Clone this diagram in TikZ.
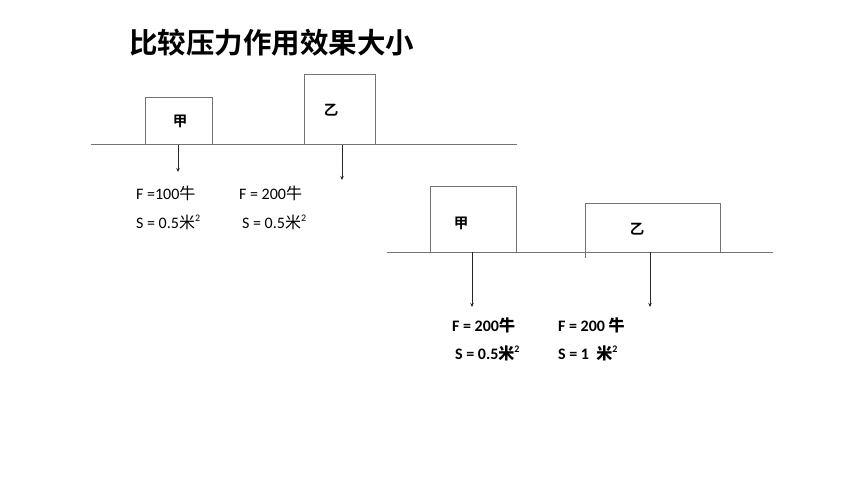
\documentclass[tikz,border=0pt]{standalone}
\usepackage{fontspec}
\setmainfont{Carlito}
\newfontfamily\cjk{Noto Sans CJK SC}
\newfontfamily\cjkb{Noto Sans CJK SC Bold}
\usetikzlibrary{arrows.meta}
\tikzset{
  ground/.style={draw=black!55, line width=1pt},
  blockbox/.style={draw=black!55, line width=1pt, fill=none},
  force/.style={draw=black!85, line width=0.7pt, -{Stealth[length=4pt,width=3.5pt]}},
  lbl/.style={font=\cjkb\fontsize{14.5}{14.5}\selectfont, inner sep=0pt},
  txt/.style={font=\fontsize{16}{16}\selectfont, inner sep=0pt, anchor=west},
  btxt/.style={font=\bfseries\fontsize{16}{16}\selectfont, inner sep=0pt, anchor=west},
}
\newcommand{\nian}{{\cjk 牛}}
\newcommand{\mii}{{\cjk 米}\raisebox{0.4em}{\fontsize{10}{10}\selectfont 2}}
\newcommand{\bnian}{{\cjkb 牛}}
\newcommand{\bmii}{{\cjkb 米}\raisebox{0.4em}{\fontsize{10}{10}\selectfont\bfseries 2}}
\begin{document}
\begin{tikzpicture}[x=1pt,y=-1pt]
\useasboundingbox (0,0) rectangle (860,484);
% title
\node[font=\cjkb\fontsize{28.5}{28.5}\selectfont, inner sep=0pt, anchor=west] (title) at (129,43) {比较压力作用效果大小};
% first scene
\coordinate (g1a) at (91,145);
\coordinate (g1b) at (517,145);
\draw[ground] (g1a) -- (g1b);
\draw[blockbox] (145,145) rectangle (212,98);
\node[lbl] (jia1) at (180,121) {甲};
\draw[blockbox] (304,145) rectangle (375,75);
\node[lbl] (yi1) at (331,110) {乙};
\coordinate (a1s) at (178,145);
\coordinate (a1e) at (178,172);
\draw[force] (a1s) -- (a1e);
\coordinate (a2s) at (342,145);
\coordinate (a2e) at (342,180);
\draw[force] (a2s) -- (a2e);
\node[txt] (f1) at (136,193) {F =100\nian};
\node[txt] (s1) at (136,222) {S = 0.5\mii};
\node[txt] (f2) at (239,193) {F = 200\nian};
\node[txt] (s2) at (242,222) {S = 0.5\mii};
% second scene
\coordinate (g2a) at (387,252);
\coordinate (g2b) at (773,252);
\draw[ground] (g2a) -- (g2b);
\draw[blockbox] (430,252) rectangle (516,187);
\node[lbl] (jia2) at (461,223) {甲};
\draw[blockbox] (585,258) -- (585,204) -- (720,204) -- (720,252);
\node[lbl] (yi2) at (637,229) {乙};
\coordinate (a3s) at (472,252);
\coordinate (a3e) at (472,307);
\draw[force] (a3s) -- (a3e);
\coordinate (a4s) at (650,252);
\coordinate (a4e) at (650,307);
\draw[force] (a4s) -- (a4e);
\node[btxt] (f3) at (452,325) {F = 200\bnian};
\node[btxt] (s3) at (455,353) {S = 0.5\bmii};
\node[btxt] (f4) at (558,325) {F = 200 \bnian};
\node[btxt] (s4) at (558,353) {S = 1~~\bmii};
\end{tikzpicture}
\end{document}
